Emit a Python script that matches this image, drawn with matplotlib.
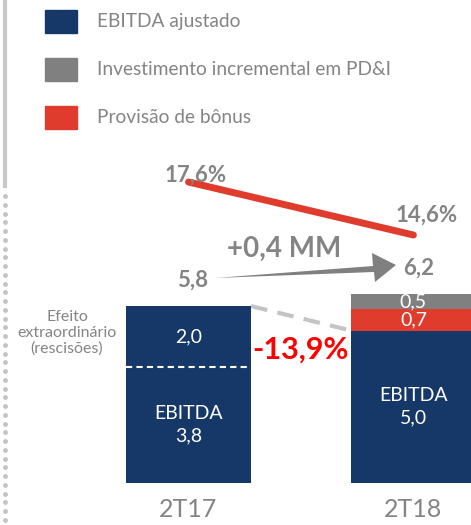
import matplotlib.pyplot as plt
from matplotlib.patches import Polygon, Rectangle

# data
periods = ['2T17', '2T18']
ebitda = [3.8, 5.0]
extraordinario = [2.0, 0.0]
bonus = [0.0, 0.7]
pdi = [0.0, 0.5]
totals = [5.8, 6.2]
margins = [17.6, 14.6]
margin_labels = ['17,6%', '14,6%']
legend_names = ['EBITDA ajustado', 'Investimento incremental em PD&I', 'Provisão de bônus']

NAVY = '#163868'
GRAY = '#808080'
RED = '#e03c2e'
TXT = '#848484'

plt.rcParams['font.family'] = ['Lato', 'DejaVu Sans']

fig = plt.figure(figsize=(4.71, 5.25), dpi=100)

# main value axis: bars at x=0 and x=1
ax = fig.add_axes([0, 0, 1, 1])
ax.set_xlim(-0.838, 1.256)
ax.set_ylim(-42 / 30.5, 483 / 30.5)
ax.axis('off')
x = [0, 1]
w = 0.556
ax.bar(x, ebitda, w, color=NAVY, zorder=2)
ax.bar(x, extraordinario, w, bottom=ebitda, color=NAVY, zorder=2)
b2 = [e + x2 for e, x2 in zip(ebitda, extraordinario)]
ax.bar(x, bonus, w, bottom=b2, color=RED, zorder=2)
b3 = [b + c for b, c in zip(b2, bonus)]
ax.bar(x, pdi, w, bottom=b3, color=GRAY, zorder=2)

# dashed divider inside 2T17 bar
ax.plot([-w / 2, w / 2], [ebitda[0], ebitda[0]], color='white', ls=(0, (3, 2)), lw=1.5, zorder=3)
# dashed connector between adjusted EBITDA tops
ax.plot([w / 2, 1 - w / 2], [totals[0], ebitda[1]], color='#c4c4c4', ls=(0, (4, 2.5)), lw=3, zorder=1)

# bar labels
ax.text(0, ebitda[0] + extraordinario[0] / 2, '2,0', color='white', ha='center', va='center', fontsize=14)
ax.text(0, ebitda[0] / 2, 'EBITDA\n3,8', color='white', ha='center', va='center', fontsize=14, linespacing=1.4)
ax.text(1, ebitda[1] / 2, 'EBITDA\n5,0', color='white', ha='center', va='center', fontsize=14, linespacing=1.4)
ax.text(1, b2[1] + bonus[1] / 2, '0,7', color='white', ha='center', va='center', fontsize=14)
ax.text(1, b3[1] + pdi[1] / 2, '0,5', color='white', ha='center', va='center', fontsize=14)
for xi, p in zip(x, periods):
    ax.text(xi, -0.88, p, color=TXT, ha='center', va='center', fontsize=18)

# margin line on its own scale
ax2 = ax.twinx()
ax2.set_ylim(17.6 - 343 / 17.67, 17.6 + 182 / 17.67)
ax2.axis('off')
ax2.plot(x, margins, color=RED, lw=5, solid_capstyle='round')
ax2.text(0.03, margins[0] + 0.4, margin_labels[0], color=TXT, ha='center', va='center',
         fontsize=16, fontweight='bold')
ax2.text(1.06, margins[1] + 1.13, margin_labels[1], color=TXT, ha='center', va='center',
         fontsize=16, fontweight='bold')

# overlay in pixel units for decorations
ov = fig.add_axes([0, 0, 1, 1])
ov.set_xlim(0, 471)
ov.set_ylim(525, 0)
ov.axis('off')

# left border: solid then dotted
ov.plot([5, 5], [0, 186], color='#c8c8c8', lw=3)
ov.plot([5] * 38, [196 + 8.75 * i for i in range(38)], 'o', color='#c4c4c4', ms=2.5)

# legend
for i, (name, col) in enumerate(zip(legend_names, [NAVY, GRAY, RED])):
    yy = 10 + 48 * i
    ov.add_patch(Rectangle((45, yy), 32, 23, color=col))
    ov.text(97, yy + 11.5, name, color=TXT, fontsize=13.8, va='center', ha='left')

# growth arrow
ov.add_patch(Polygon([(215, 278), (373, 266), (372, 253), (396, 265), (375, 282), (374, 272)],
                     closed=True, color=GRAY, lw=0))
ov.text(193, 280, '5,8', color=TXT, fontsize=16, fontweight='bold', ha='center', va='center')
ov.text(419, 268, '6,2', color=TXT, fontsize=16, fontweight='bold', ha='center', va='center')
ov.text(284, 249, '+0,4 MM', color=TXT, fontsize=20, fontweight='bold', ha='center', va='center')

ov.text(300, 350, '-13,9%', color='#ff0000', fontsize=22, fontweight='bold', ha='center', va='center')
ov.text(67, 333, 'Efeito\nextraordinário\n(rescisões)', color=TXT, fontsize=11.5, ha='center',
        va='center', linespacing=1.15)

fig.savefig('out.png', dpi=100)
